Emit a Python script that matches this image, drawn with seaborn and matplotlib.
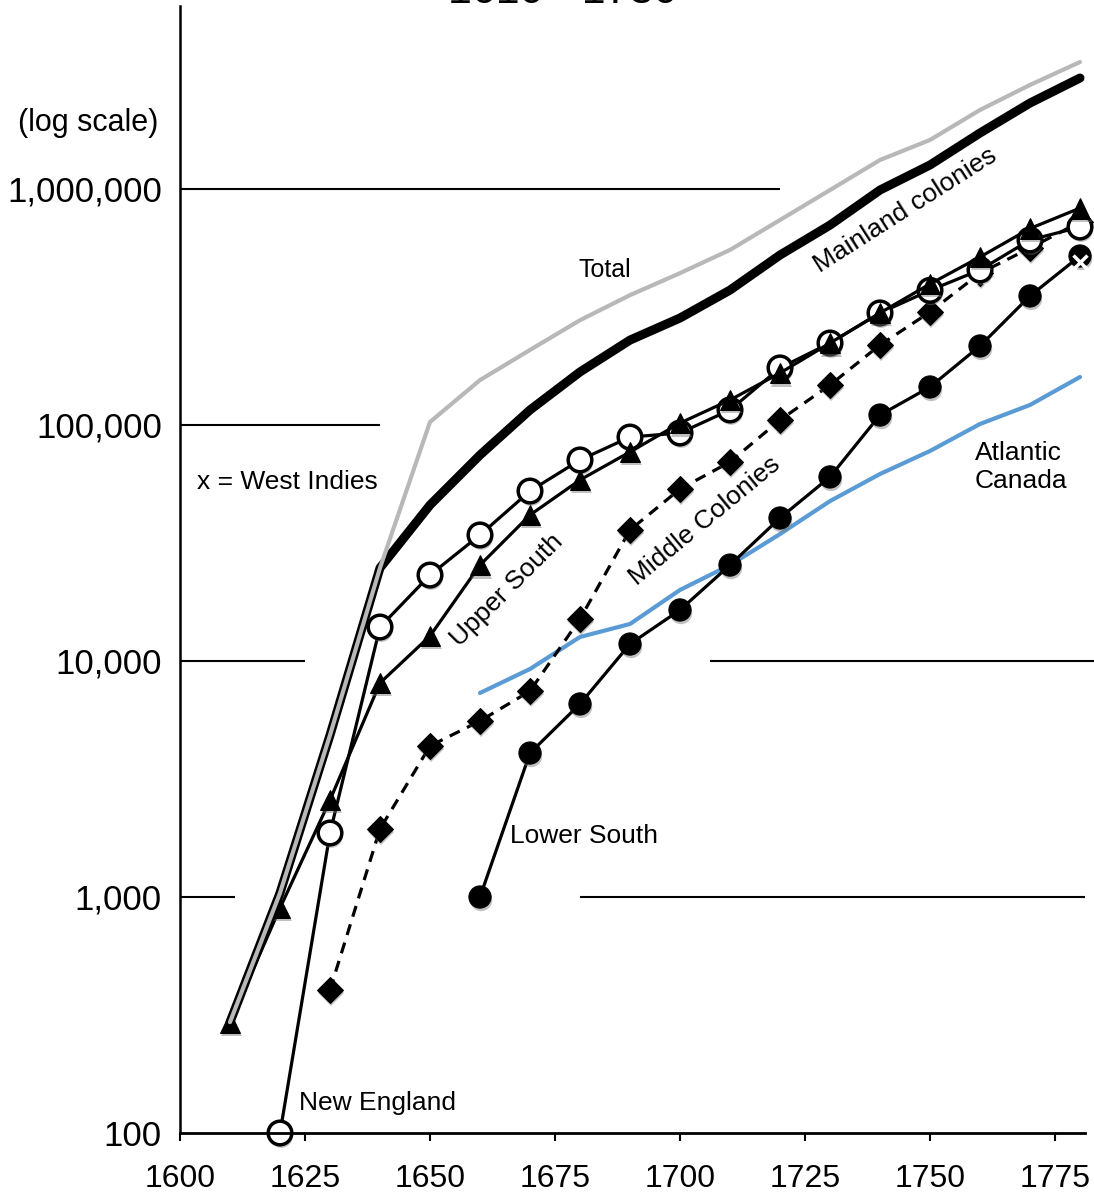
import matplotlib
matplotlib.use("Agg")
import matplotlib.pyplot as plt
import matplotlib.patheffects as pe
import seaborn as sns
import pandas as pd

# ---------------- data ----------------
years_total = list(range(1610, 1790, 10))
total = [295, 1040, 4850, 24800, 103000, 155000, 208000, 278000, 355000,
         440000, 552000, 739000, 990000, 1327000, 1614000, 2162000, 2760000, 3452000]
mainland = [295, 1040, 4850, 24800, 45800, 74600, 115800, 167800, 229000,
            284000, 373000, 525000, 703000, 990000, 1264000, 1727000, 2313000, 2953000]

years_us = list(range(1610, 1790, 10))
upper_south = [295, 898, 2576, 8070, 12760, 25500, 41550, 58500, 76900, 101900,
               127600, 166000, 222500, 298400, 396000, 515000, 680000, 830000]

years_ne = list(range(1620, 1790, 10))
new_england = [100, 1867, 13930, 23130, 34200, 52500, 71100, 88900, 92500,
               115800, 174500, 222500, 298400, 372000, 454000, 608000, 690000]

years_mc = list(range(1630, 1790, 10))
middle_colonies = [404, 1942, 4365, 5570, 7460, 15070, 35900, 53550, 69700,
                   105000, 147700, 218300, 301000, 440000, 562000, 725000]

years_ls = list(range(1660, 1790, 10))
lower_south = [1000, 4074, 6576, 11800, 16450, 25500, 40360, 60250, 110200,
               144900, 216200, 352200, 520000]

years_ac = list(range(1660, 1790, 10))
atlantic_canada = [7320, 9250, 12640, 14350, 20000, 25500, 34500, 47600, 62000,
                   77600, 101000, 121600, 159700]

years_wi = list(range(1650, 1790, 10))
west_indies = [60250, 83900, 98100, 118000, 136700, 152200, 177800, 216200,
               262600, 307000, 360000, 420000, 467000, 490000]

x_ticks = [1600, 1625, 1650, 1675, 1700, 1725, 1750, 1775]
y_ticks = [100, 1000, 10000, 100000, 1000000]
y_tick_labels = ["100", "1,000", "10,000", "100,000", "1,000,000"]

# ---------------- figure ----------------
sns.set_style("white")
plt.rcParams["font.family"] = ["Liberation Sans", "DejaVu Sans"]
plt.rcParams["text.color"] = "black"
plt.rcParams["xtick.color"] = "black"
plt.rcParams["ytick.color"] = "black"
plt.rcParams["axes.edgecolor"] = "black"

W, H = 1094, 1199
fig = plt.figure(figsize=(W / 100, H / 100), dpi=100)
ax = fig.add_axes([180 / W, 66 / H, (1085 - 180) / W, (1133 - 6) / H])
ax.set_yscale("log")
ax.set_xlim(1600, 1781)
ax.set_ylim(100, 10 ** (2 + (1133 - 6) / 236))

def df(x, y):
    return pd.DataFrame({"year": x, "pop": y})

# partial horizontal guide lines
seg_kw = dict(color="black", lw=1.5, clip_on=False, zorder=1)
ax.hlines(1e6, 1600, 1720, **seg_kw)
ax.hlines(1e5, 1600, 1640, **seg_kw)
ax.hlines(1e4, 1600, 1625, **seg_kw)
ax.hlines(1e4, 1706, 1782.8, **seg_kw)
ax.hlines(1e3, 1600, 1611, **seg_kw)
ax.hlines(1e3, 1680, 1781, **seg_kw)

common = dict(x="year", y="pop", ax=ax, legend=False, sort=False, clip_on=False)
shadow = [pe.SimplePatchShadow(offset=(0.8, -2.2), shadow_rgbFace="#777777", alpha=0.45),
          pe.Normal()]

def series(x, y, z, line_kw, marker_kw=None):
    d = df(x, y)
    sns.lineplot(data=d, zorder=z, **line_kw, **common)
    if marker_kw is not None:
        sns.lineplot(data=d, linestyle="none", zorder=z + 0.5,
                     path_effects=shadow, **marker_kw, **common)

sns.lineplot(data=df(years_ac, atlantic_canada), color="#5b9bd5", lw=3, zorder=2, **common)
series(years_ls, lower_south, 3,
       dict(color="black", lw=2.3),
       dict(color="black", marker="o", markersize=16, markerfacecolor="black",
            markeredgecolor="black"))
series(years_mc, middle_colonies, 3,
       dict(color="black", lw=2.3, linestyle=(0, (3.5, 2.5))),
       dict(color="black", marker="D", markersize=13, markerfacecolor="black",
            markeredgecolor="black"))
sns.lineplot(data=df(years_wi, west_indies), color="#3a3a3a", linestyle="none",
             marker="x", markersize=10, markeredgewidth=2.5, zorder=4,
             path_effects=shadow, **common)
series(years_ne, new_england, 5,
       dict(color="black", lw=2.3),
       dict(color="black", marker="o", markersize=17, markerfacecolor="white",
            markeredgecolor="black", markeredgewidth=2.5))
series(years_us, upper_south, 6,
       dict(color="black", lw=2.3),
       dict(color="black", marker="^", markersize=15, markerfacecolor="black",
            markeredgecolor="black"))
sns.lineplot(data=df(years_total, mainland), color="black", lw=6.5, zorder=8, **common)
sns.lineplot(data=df(years_total, total), color="#b8b8b8", lw=3, zorder=9, **common)

# axes styling
for s in ["top", "right"]:
    ax.spines[s].set_visible(False)
ax.spines["left"].set_linewidth(1.8)
ax.spines["bottom"].set_linewidth(2)
ax.spines["left"].set_zorder(10)
ax.spines["bottom"].set_zorder(10)
ax.set_xticks(x_ticks)
ax.set_xticklabels([str(t) for t in x_ticks], fontsize=23)
ax.set_yticks(y_ticks)
ax.set_yticklabels(y_tick_labels, fontsize=25)
ax.minorticks_off()
ax.tick_params(axis="x", direction="out", length=6, width=1.5, pad=16, bottom=True)
ax.tick_params(axis="y", length=0, pad=13)
ax.set_xlabel("")
ax.set_ylabel("")
ax.grid(False)

def ftxt(px, py, s, **kw):
    fig.text(px / W, 1 - py / H, s, **kw)

ftxt(563, 3, "1610 - 1780", ha="center", va="baseline", fontsize=31)
ftxt(88, 123, "(log scale)", ha="center", va="center", fontsize=22)
ftxt(605, 270, "Total", ha="center", va="center", fontsize=18)
ftxt(287, 482, "x = West Indies", ha="center", va="center", fontsize=19)
ftxt(299, 1103, "New England", ha="left", va="center", fontsize=19)
ftxt(510, 836, "Lower South", ha="left", va="center", fontsize=19)
ftxt(975, 467, "Atlantic\nCanada", ha="left", va="center", fontsize=19, linespacing=1.2)
ftxt(507, 590, "Upper South", ha="center", va="center", fontsize=19, rotation=45,
     rotation_mode="anchor")
ftxt(705, 521, "Middle Colonies", ha="center", va="center", fontsize=19, rotation=39.5,
     rotation_mode="anchor")
ftxt(905, 210, "Mainland colonies", ha="center", va="center", fontsize=19, rotation=32.5,
     rotation_mode="anchor")

fig.savefig("out.png", dpi=100)
